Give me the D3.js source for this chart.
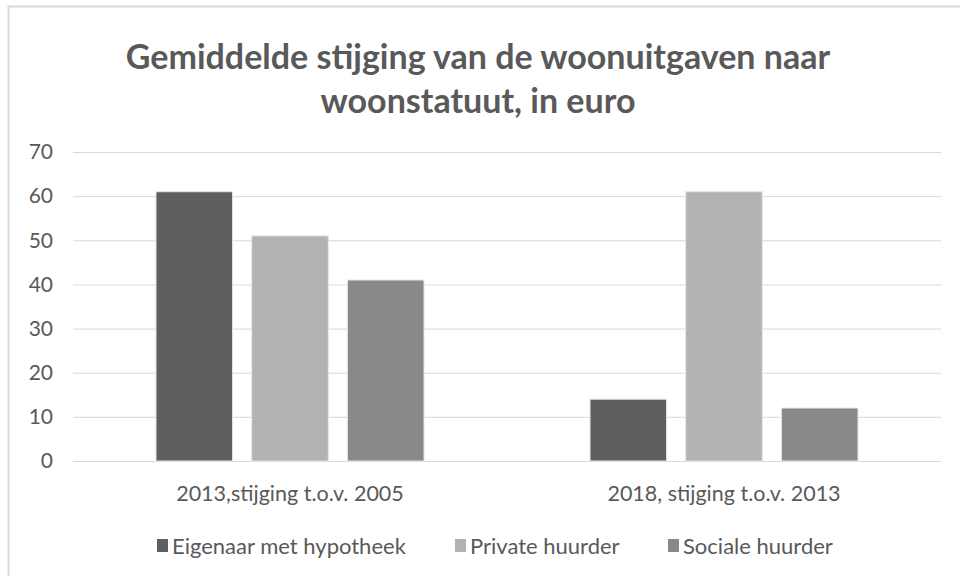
<!DOCTYPE html>
<html>
<head>
<meta charset="utf-8">
<script src="https://cdn.jsdelivr.net/npm/d3@7"></script>
<style>
  body { margin: 0; background: #fff; }
  text { font-family: Lato, "Open Sans", sans-serif; fill: #595959; }
</style>
</head>
<body>
<div id="chart-area"></div>
<script>
// woonuitgaven per woonstatuut
var categories = ["2013,stijging t.o.v. 2005", "2018, stijging t.o.v. 2013"];
var series = ["Eigenaar met hypotheek", "Private huurder", "Sociale huurder"];
var values = [
    [61, 51, 41],
    [14, 61, 12]
];
var colors = ["#5f5f5f", "#b2b2b2", "#898989"];
var yTicks = [0, 10, 20, 30, 40, 50, 60, 70];
var titleLines = ["Gemiddelde stijging van de woonuitgaven naar", "woonstatuut, in euro"];

var width = 960, height = 576;

var svg = d3.select("#chart-area").append("svg")
            .attr("width", width)
            .attr("height", height);

// chart frame
svg.append("rect")
    .attr("x", 8.5).attr("y", 6.5)
    .attr("width", 960).attr("height", 580)
    .attr("fill", "none")
    .attr("stroke", "#d9d9d9")
    .attr("stroke-width", 2);

svg.selectAll(".title").data(titleLines).enter().append("text")
    .attr("class", "title")
    .attr("x", 478)
    .attr("y", (d, i) => 69 + i * 44)
    .attr("text-anchor", "middle")
    .style("font-size", "34px")
    .style("font-weight", "bold")
    .text(d => d);

const x = d3.scaleBand()
            .domain(categories)
            .range([73, 941]);

const xInner = d3.scaleBand()
            .domain(series)
            .range([83, x.bandwidth() - 83])
            .paddingInner(0.2);

const y = d3.scaleLinear().domain([0, 70]).range([461, 152]);

// gridlines
svg.selectAll(".grid").data(yTicks).enter().append("line")
    .attr("x1", 73).attr("x2", 941)
    .attr("y1", d => y(d) + 0.5).attr("y2", d => y(d) + 0.5)
    .attr("stroke", "#d9d9d9")
    .attr("stroke-width", 1);

// y axis labels
svg.selectAll(".ytick").data(yTicks).enter().append("text")
    .attr("x", 53)
    .attr("y", d => y(d))
    .attr("dy", "0.35em")
    .attr("text-anchor", "end")
    .style("font-size", "21px")
    .text(d => d);

var groups = svg.selectAll(".group").data(values).enter().append("g")
    .attr("transform", (d, i) => "translate(" + x(categories[i]) + ",0)");

groups.selectAll("rect").data(d => d).enter().append("rect")
    .attr("x", (d, i) => xInner(series[i]))
    .attr("y", d => y(d))
    .attr("width", xInner.bandwidth())
    .attr("height", d => y(0) - y(d))
    .attr("fill", (d, i) => colors[i])
    .attr("stroke", "#e6e6e6")
    .attr("stroke-width", 1);

// category labels
svg.selectAll(".xlabel").data(categories).enter().append("text")
    .attr("x", d => x(d) + x.bandwidth() / 2)
    .attr("y", 501)
    .attr("text-anchor", "middle")
    .style("font-size", "21.5px")
    .text(d => d);

// legend
var legendX = [157, 455, 668];
var legend = svg.selectAll(".legend").data(series).enter().append("g")
    .attr("transform", (d, i) => "translate(" + legendX[i] + ",539)");

legend.append("rect")
    .attr("width", 11).attr("height", 13)
    .attr("fill", (d, i) => colors[i]);

legend.append("text")
    .attr("x", 15)
    .attr("y", 7)
    .attr("dy", "0.35em")
    .style("font-size", "22px")
    .text(d => d);
</script>
</body>
</html>
